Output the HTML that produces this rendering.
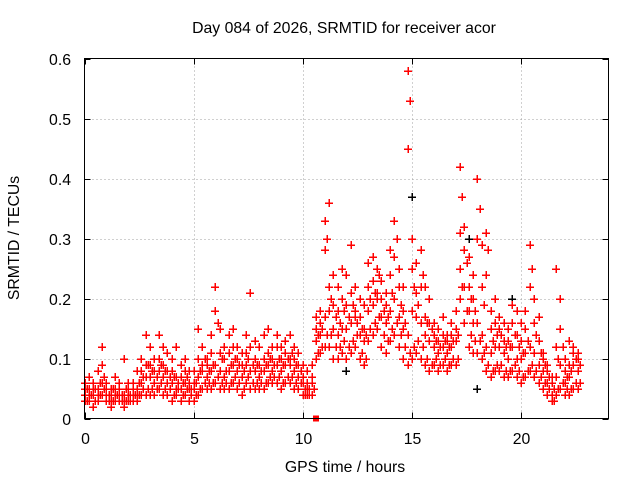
<!DOCTYPE html>
<html><head><meta charset="utf-8"><style>
body{margin:0;background:#fff}
svg{display:block;font-family:"Liberation Sans",sans-serif}
</style></head><body>
<svg id="chart" width="640" height="480">
<rect width="640" height="480" fill="#fff"/>
<text x="344" y="33" text-anchor="middle" font-size="15.8">Day 084 of 2026, SRMTID for receiver acor</text>
<text x="345" y="472" text-anchor="middle" font-size="15.8">GPS time / hours</text>
<text transform="translate(19,238) rotate(-90)" text-anchor="middle" font-size="15.8">SRMTID / TECUs</text>
<g id="grid"></g>
<g id="ticks"></g>
<g id="marks" shape-rendering="crispEdges"></g>
<rect x="84.5" y="58.5" width="524" height="360" fill="none" stroke="#000" stroke-width="1"/>
</svg>
<script>
const xTicks=[0,5,10,15,20];
const yTicks=[0,0.1,0.2,0.3,0.4,0.5,0.6];
const yTickLabels=["0","0.1","0.2","0.3","0.4","0.5","0.6"];
const seriesA=[.04,.05,.04,.05,.06,.04,.04,.05,.04,.04,.04,.05,.04,.06,.07,.07,.06,.08,.07,.06,.06,.07,.05,.06,.05,.05,.07,.08,.07,.08,.09,.08,.07,.08,.09,.08,.07,.09,.08,.08,.07,.08,.09,.08,.09,.08,.09,.09,.08,.07,.06,.05,.06,.13,.14,.17,.18,.15,.14,.15,.15,.16,.17,.14,.13,.18,.19,.20,.17,.16,.18,.20,.17,.15,.14,.18,.17,.16,.14,.13,.12,.11,.12,.11,.12,.13,.25,.22,.18,.16,.16,.14,.12,.11,.12,.12,.11,.10,.12,.10,.10,.11,.12,.11,.09,.08,.06,.04,.07,.09,.06,.07,.09,.08];
const seriesB=[.03,.03,.02,.03,.04,.03,.02,.03,.03,.02,.03,.03,.03,.04,.04,.04,.04,.05,.04,.04,.03,.04,.03,.04,.03,.03,.04,.05,.05,.05,.06,.05,.05,.05,.06,.05,.04,.06,.05,.05,.05,.05,.06,.06,.06,.05,.06,.06,.05,.05,.04,.04,.04,.10,.11,.12,.12,.10,.10,.11,.10,.11,.12,.10,.09,.13,.14,.15,.12,.11,.13,.14,.12,.10,.09,.10,.11,.10,.09,.08,.09,.08,.09,.08,.09,.09,.20,.16,.12,.11,.11,.10,.08,.07,.08,.08,.07,.07,.08,.07,.06,.07,.08,.07,.06,.05,.04,.03,.04,.05,.04,.04,.05,.05];
const seriesC=[.06,.07,.05,.08,.12,.06,.05,.07,.06,.10,.06,.06,.08,.10,.14,.12,.10,.14,.12,.11,.10,.12,.09,.10,.08,.08,.15,.12,.10,.14,.22,.15,.12,.14,.15,.12,.11,.14,.21,.13,.12,.14,.15,.12,.14,.12,.13,.14,.12,.11,.09,.08,.09,.17,.18,.33,.36,.24,.22,.25,.24,.29,.22,.20,.19,.26,.27,.25,.23,.21,.28,.33,.25,.22,.58,.30,.26,.28,.22,.20,.16,.15,.17,.14,.16,.18,.42,.32,.27,.24,.40,.29,.31,.18,.20,.17,.16,.15,.19,.18,.16,.18,.29,.20,.17,.11,.09,.07,.25,.20,.10,.13,.12,.11];
const seriesD=[.05,.04,.06,.04,.09,.05,.03,.04,.05,.03,.05,.04,.05,.08,.09,.09,.08,.10,.09,.08,.08,.05,.07,.08,.06,.06,.10,.09,.09,.11,.18,.11,.10,.11,.12,.10,.09,.11,.12,.10,.09,.10,.11,.10,.12,.10,.11,.10,.10,.09,.07,.06,.07,.15,.16,.28,.22,.19,.18,.20,.19,.21,.18,.17,.15,.22,.23,.21,.20,.19,.24,.27,.22,.18,.45,.25,.21,.22,.17,.16,.14,.13,.14,.13,.14,.15,.31,.28,.22,.20,.30,.22,.24,.15,.16,.15,.13,.13,.16,.14,.13,.15,.22,.16,.13,.10,.08,.06,.12,.15,.08,.09,.11,.10];
const seriesE=[.05,.04,.05,.06,.07,.04,.05,.04,.04,.05,.04,.04,.06,.07,.09,.08,.07,.09,.08,.07,.07,.06,.06,.07,.05,.06,.08,.10,.08,.09,.16,.10,.08,.09,.10,.09,.08,.10,.09,.09,.08,.09,.10,.09,.10,.09,.10,.11,.09,.08,.05,.05,.05,.14,.15,.30,.20,.17,.16,.18,.17,.19,.16,.15,.14,.20,.21,.24,.18,.17,.21,.30,.19,.16,.53,.22,.19,.24,.16,.15,.13,.12,.13,.12,.13,.14,.37,.26,.20,.18,.35,.19,.28,.13,.14,.14,.12,.12,.14,.12,.11,.13,.25,.14,.11,.09,.07,.05,.10,.12,.07,.08,.10,.09];
const seriesF=[.03,.04,.03,.04,.05,.03,.03,.04,.03,.03,.03,.04,.04,.05,.05,.05,.05,.06,.05,.05,.04,.05,.04,.05,.04,.04,.05,.06,.06,.06,.07,.06,.06,.06,.07,.06,.05,.07,.06,.06,.06,.06,.07,.07,.07,.06,.07,.07,.06,.06,.04,.04,.05,.11,.12,.14,.14,.12,.12,.13,.12,.13,.14,.11,.10,.15,.16,.17,.14,.13,.15,.16,.14,.12,.11,.12,.13,.12,.10,.09,.10,.09,.10,.09,.10,.10,.22,.18,.14,.13,.13,.11,.09,.08,.09,.09,.08,.08,.09,.08,.07,.08,.09,.08,.07,.06,.05,.03,.05,.06,.05,.05,.06,.06];
const blackHours=[0.0,12.0,14.2,15.0,17.6,18.0,19.6,20.4];
const blackValues=[0.06,0.08,0.33,0.37,0.30,0.05,0.20,0.29];
const flagHours=[10.6];
const flagValues=[0];
const hours=seriesA.map((_,i)=>+(i*0.2).toFixed(1));
const hoursOffset=seriesE.map((_,i)=>+(i*0.2+0.1).toFixed(1));

const X=h=>84.5+h*21.83, Y=v=>418.5-v*600;
const NS="http://www.w3.org/2000/svg";
function mk(tag,attrs,parent){const e=document.createElementNS(NS,tag);for(const k in attrs)e.setAttribute(k,attrs[k]);parent.appendChild(e);return e;}
const grid=document.getElementById('grid'),ticks=document.getElementById('ticks'),marks=document.getElementById('marks');
xTicks.forEach(t=>{
  const x=Math.round(X(t))+0.5;
  if(t>0){const g=mk('line',{x1:x,x2:x,y1:58.5,y2:418.5,stroke:'#a0a0a0','stroke-dasharray':'1,3'},grid);
  
  }
  mk('line',{x1:x,x2:x,y1:418.5,y2:412.5,stroke:'#000'},ticks);
  mk('line',{x1:x,x2:x,y1:58.5,y2:64.5,stroke:'#000'},ticks);
  const l=mk('text',{x:x,y:444,'text-anchor':'middle','font-size':'15.8'},ticks);l.textContent=t;
  
  
});
yTicks.forEach((t,i)=>{
  const y=Math.round(Y(t))+0.5;
  if(t>0&&t<0.6){const g=mk('line',{x1:84.5,x2:608.5,y1:y,y2:y,stroke:'#a0a0a0','stroke-dasharray':'1,3'},grid);
  
  }
  mk('line',{x1:84.5,x2:90.5,y1:y,y2:y,stroke:'#000'},ticks);
  mk('line',{x1:608.5,x2:602.5,y1:y,y2:y,stroke:'#000'},ticks);
  const l=mk('text',{x:71,y:y+5.5,'text-anchor':'end','font-size':'15.8'},ticks);l.textContent=yTickLabels[i];
  
  
});
function plus(h,v,color,name){
  const x=Math.round(X(h)),y=Math.round(Y(v));
  const p=mk('path',{d:`M${x-4} ${y}h8M${x} ${y-4}v8`,stroke:color,'stroke-width':1.5,fill:'none'},marks);
  
  
}
blackHours.forEach((h,i)=>plus(h,blackValues[i],'#000','black-point'));
[seriesA,seriesB,seriesC,seriesD].forEach(s=>s.forEach((v,i)=>plus(hours[i],v,'#ff0000','red-point')));
[seriesE,seriesF].forEach(s=>s.forEach((v,i)=>plus(hoursOffset[i],v,'#ff0000','red-point')));
flagHours.forEach((h,i)=>{
  const r=mk('rect',{x:X(h)-3,y:Y(flagValues[i])-3,width:6,height:6,fill:'#f00'},marks);
  
  
});
</script>
</body></html>
